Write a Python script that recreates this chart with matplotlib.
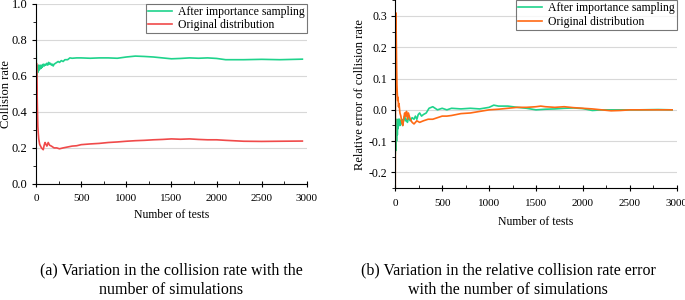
#!/usr/bin/env python3
"""
Collision rate and relative error vs number of tests
(a) collision rate, (b) relative error of collision rate
"""

import matplotlib
matplotlib.use('Agg')
import matplotlib.pyplot as plt
from matplotlib.ticker import MultipleLocator

plt.rcParams['font.family'] = ['Liberation Serif', 'DejaVu Serif']
plt.rcParams['axes.unicode_minus'] = False

# (a) collision rate
rate_x_is = [0, 2, 5, 8, 12, 16, 20, 25, 30, 35, 40, 45, 50, 55, 60, 65, 70, 80, 90, 100, 110,
             120, 130, 140, 150, 160, 170, 180, 190, 200, 215, 230, 245, 260, 280, 300, 320,
             350, 375, 400, 450, 500, 600, 700, 800, 900, 1000, 1100, 1200, 1300, 1400, 1500,
             1600, 1700, 1800, 1900, 2000, 2100, 2300, 2500, 2700, 2950]
rate_is = [1.0, 0.75, 0.58, 0.63, 0.6, 0.65, 0.62, 0.66, 0.63, 0.65, 0.64, 0.66, 0.64, 0.655,
           0.645, 0.66, 0.65, 0.665, 0.655, 0.665, 0.66, 0.67, 0.66, 0.675, 0.665, 0.67, 0.66,
           0.665, 0.655, 0.665, 0.67, 0.675, 0.68, 0.675, 0.685, 0.68, 0.69, 0.69, 0.70, 0.698,
           0.70, 0.70, 0.698, 0.70, 0.70, 0.698, 0.705, 0.71, 0.708, 0.705, 0.70, 0.695, 0.697,
           0.70, 0.698, 0.70, 0.697, 0.69, 0.69, 0.692, 0.69, 0.693]

rate_x_org = [0, 2, 5, 8, 12, 16, 20, 25, 30, 40, 50, 60, 70, 80, 90, 100, 110, 120, 135, 150,
              170, 200, 230, 260, 300, 350, 400, 450, 500, 600, 700, 800, 900, 1000, 1100, 1200,
              1300, 1400, 1500, 1600, 1700, 1800, 1900, 2000, 2100, 2300, 2500, 2700, 2950]
rate_org = [0.0, 0.4, 0.67, 0.6, 0.5, 0.4, 0.32, 0.28, 0.25, 0.22, 0.21, 0.2, 0.195, 0.19, 0.215,
            0.23, 0.22, 0.21, 0.23, 0.215, 0.21, 0.2, 0.2, 0.195, 0.2, 0.205, 0.21, 0.212, 0.218,
            0.222, 0.225, 0.23, 0.233, 0.237, 0.24, 0.242, 0.245, 0.247, 0.25, 0.248, 0.25, 0.247,
            0.245, 0.245, 0.242, 0.237, 0.236, 0.237, 0.238]

# (b) relative error of collision rate
err_x_is = [0, 3, 6, 10, 14, 18, 22, 26, 30, 35, 40, 45, 50, 55, 60, 70, 80, 90, 100, 110, 120,
            130, 140, 160, 180, 200, 215, 230, 245, 260, 280, 300, 330, 360, 400, 450, 500, 550,
            600, 700, 800, 900, 1000, 1050, 1100, 1200, 1300, 1400, 1500, 1600, 1700, 1800,
            1900, 2000, 2100, 2200, 2400, 2600, 2800, 2950]
err_is = [-0.14, -0.1, -0.13, -0.05, -0.1, -0.03, -0.08, -0.04, -0.06, -0.03, -0.05, -0.03, -0.05,
          -0.035, -0.045, -0.03, -0.05, -0.03, -0.02, -0.035, -0.03, -0.04, -0.025, -0.035,
          -0.025, -0.03, -0.02, -0.03, -0.015, -0.01, -0.02, -0.015, -0.01, 0.005, 0.01, 0.0,
          0.005, 0.0, 0.005, 0.003, 0.005, 0.003, 0.008, 0.015, 0.012, 0.012, 0.008, 0.005, 0.0,
          0.002, 0.003, 0.005, 0.006, 0.004, -0.002, 0.0, 0.0, 0.0, 0.001, 0.0]

err_x_org = [0, 3, 6, 10, 14, 18, 22, 26, 30, 35, 40, 50, 60, 70, 80, 90, 100, 110, 120, 130, 140,
             160, 180, 200, 230, 260, 300, 350, 400, 450, 500, 550, 600, 700, 800, 900, 1000,
             1100, 1200, 1300, 1400, 1500, 1550, 1600, 1700, 1800, 1900, 2000, 2100, 2200, 2300,
             2400, 2500, 2700, 2950]
err_org = [-0.25, 0.1, 0.31, 0.25, 0.15, 0.08, 0.05, 0.03, 0.04, 0.01, 0.02, -0.01, -0.02, -0.04,
           -0.05, -0.03, -0.01, -0.02, -0.005, -0.03, -0.01, -0.03, -0.04, -0.045, -0.035, -0.04,
           -0.035, -0.03, -0.03, -0.025, -0.02, -0.02, -0.018, -0.012, -0.01, -0.005, 0.0, 0.002,
           0.005, 0.008, 0.008, 0.01, 0.012, 0.01, 0.008, 0.01, 0.007, 0.005, 0.003, 0.0, -0.003,
           -0.002, 0.0, 0.0, 0.0]

GREEN = '#1fd38c'
RED = '#f04a4a'
ORANGE = '#ff6a14'


def style_axis(ax, ylab_size, xlabpad):
    for s in ['top', 'right']:
        ax.spines[s].set_visible(False)
    ax.set_xlim(0, 3000)
    ax.xaxis.set_major_locator(MultipleLocator(500))
    ax.xaxis.set_minor_locator(MultipleLocator(250))
    ax.tick_params(axis='x', which='major', direction='inout', length=5, labelsize=8, pad=5)
    ax.tick_params(axis='x', which='minor', direction='in', length=2.5)
    ax.tick_params(axis='y', which='major', direction='out', length=3, labelsize=ylab_size, pad=3)
    ax.tick_params(axis='y', which='minor', direction='out', length=2)
    ax.grid(True, axis='y', color='#d8d8d8', linewidth=0.8)
    ax.set_axisbelow(True)
    ax.set_xlabel('Number of tests', fontsize=8.5, labelpad=xlabpad)
    leg = ax.legend(loc='upper right', fontsize=8.5, frameon=True, fancybox=False,
                    borderpad=0.15, handlelength=2.1, handletextpad=0.5,
                    labelspacing=0.15, borderaxespad=0.0)
    leg.get_frame().set_edgecolor('#555555')
    leg.get_frame().set_linewidth(0.8)


fig = plt.figure(figsize=(6.85, 3.0), dpi=100)

ax1 = fig.add_axes([0.0526, 0.387, 0.3954, 0.600])
ax1.plot(rate_x_is, rate_is, color=GREEN, linewidth=1.2, label='After importance sampling')
ax1.plot(rate_x_org, rate_org, color=RED, linewidth=1.2, label='Original distribution')
ax1.set_ylim(0, 1.0)
ax1.yaxis.set_major_locator(MultipleLocator(0.2))
ax1.yaxis.set_minor_locator(MultipleLocator(0.1))
ax1.set_ylabel('Collision rate', fontsize=9)
ax1.yaxis.set_label_coords(-0.087, 0.5)
style_axis(ax1, 9, 4)

ax2 = fig.add_axes([0.577, 0.373, 0.411, 0.626])
ax2.plot(err_x_is, err_is, color=GREEN, linewidth=1.2, label='After importance sampling')
ax2.plot(err_x_org, err_org, color=ORANGE, linewidth=1.2, label='Original distribution')
ax2.set_ylim(-0.25, 0.35)
ax2.yaxis.set_major_locator(MultipleLocator(0.1))
ax2.yaxis.set_minor_locator(MultipleLocator(0.05))
ax2.set_ylabel('Relative error of collision rate', fontsize=9)
ax2.yaxis.set_label_coords(-0.105, 0.5)
style_axis(ax2, 8.5, 6)

fig.text(0.25, 0.066, '(a) Variation in the collision rate with the\nnumber of simulations',
         ha='center', va='center', fontsize=11.5, linespacing=1.3)
fig.text(0.742, 0.066, '(b) Variation in the relative collision rate error\nwith the number of simulations',
         ha='center', va='center', fontsize=11.5, linespacing=1.3)

fig.savefig('out.png', dpi=100)
